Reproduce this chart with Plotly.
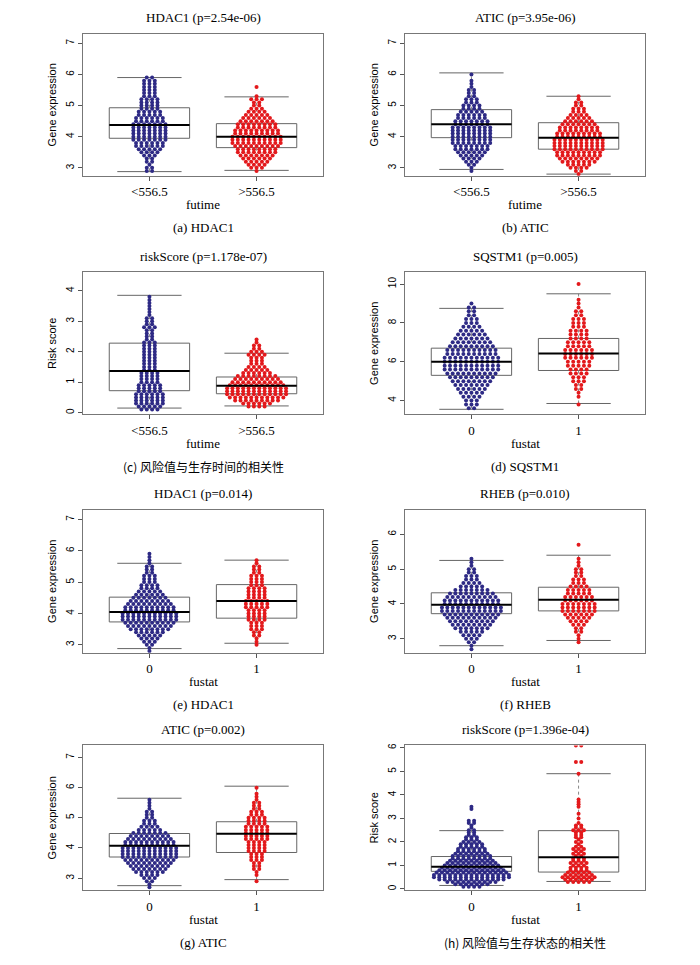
import plotly.graph_objects as go

# ---- data ----
# swarm counts per bin: (first bin value, bin width, counts)
titles = ["HDAC1 (p=2.54e-06)", "ATIC (p=3.95e-06)", "riskScore (p=1.178e-07)", "SQSTM1 (p=0.005)",
          "HDAC1 (p=0.014)", "RHEB (p=0.010)", "ATIC (p=0.002)", "riskScore (p=1.396e-04)"]
captions = ["(a) HDAC1", "(b) ATIC", "(c) 风险值与生存时间的相关性", "(d) SQSTM1",
            "(e) HDAC1", "(f) RHEB", "(g) ATIC", "(h) 风险值与生存状态的相关性"]
group_vars = ["futime", "futime", "futime", "fustat", "fustat", "fustat", "fustat", "fustat"]
y_titles = ["Gene expression", "Gene expression", "Risk score", "Gene expression",
            "Gene expression", "Gene expression", "Gene expression", "Risk score"]
tick_labels_time = ["<556.5", ">556.5"]
tick_labels_stat = ["0", "1"]

y_ranges = [[2.75, 7.3], [2.75, 7.3], [-0.05, 4.6], [3.3, 10.6],
            [2.75, 7.3], [2.6, 6.7], [2.6, 7.4], [-0.05, 6.1]]
y_ticks = [[3, 4, 5, 6, 7], [3, 4, 5, 6, 7], [0, 1, 2, 3, 4], [4, 6, 8, 10],
           [3, 4, 5, 6, 7], [3, 4, 5, 6], [3, 4, 5, 6, 7], [0, 1, 2, 3, 4, 5, 6]]

blue_bins = [
    (2.9, 0.1, [2, 2, 1, 2, 2, 3, 4, 5, 6, 6, 7, 7, 7, 7, 7, 7, 6, 6, 5, 5, 4, 4, 4, 4, 3, 3, 3, 3, 3, 3, 2]),
    (2.9, 0.1, [1, 1, 2, 3, 4, 5, 6, 7, 7, 8, 8, 8, 8, 8, 8, 7, 7, 6, 6, 5, 4, 4, 3, 3, 2, 2, 2, 1, 1, 1, 0, 1]),
    (0.1, 0.1, [4, 5, 6, 6, 6, 6, 5, 5, 5, 4, 4, 4, 4, 3, 3, 3, 3, 3, 3, 3, 3, 3, 3, 2, 2, 2, 2, 3, 2, 2, 2, 1, 1, 1, 1, 1, 1, 1]),
    (3.6, 0.2, [2, 3, 3, 4, 5, 6, 7, 8, 9, 10, 11, 11, 11, 11, 10, 10, 9, 8, 7, 6, 5, 4, 3, 3, 2, 2, 2, 1]),
    (2.8, 0.1, [1, 1, 2, 3, 4, 5, 6, 8, 9, 10, 11, 11, 11, 10, 10, 9, 8, 7, 6, 5, 4, 4, 3, 3, 3, 2, 2, 2, 1, 1, 1, 1]),
    (2.7, 0.1, [1, 1, 2, 3, 4, 5, 7, 8, 9, 10, 11, 12, 12, 11, 11, 10, 9, 7, 5, 4, 3, 3, 2, 2, 1, 1, 1]),
    (2.7, 0.1, [1, 1, 2, 3, 4, 6, 7, 8, 9, 10, 11, 11, 11, 11, 10, 10, 9, 8, 7, 5, 4, 3, 3, 2, 2, 2, 1, 1, 1, 1]),
    (0.1, 0.1, [4, 7, 10, 13, 15, 15, 14, 13, 12, 11, 10, 9, 8, 8, 7, 6, 6, 5, 5, 4, 3, 3, 2, 2, 2, 1, 1, 2, 2, 0, 0, 0, 0, 1, 1]),
]
red_bins = [
    (2.9, 0.1, [1, 3, 4, 5, 6, 7, 8, 8, 9, 10, 10, 10, 9, 9, 8, 8, 7, 6, 5, 4, 3, 2, 2, 3, 1, 0, 0, 1]),
    (2.8, 0.1, [1, 2, 4, 5, 7, 8, 9, 9, 10, 10, 10, 10, 9, 9, 8, 8, 7, 6, 5, 4, 3, 3, 2, 2, 1, 1]),
    (0.2, 0.1, [4, 6, 9, 11, 12, 12, 12, 11, 10, 9, 8, 6, 5, 4, 3, 3, 3, 4, 3, 2, 2, 1, 1]),
    (3.8, 0.2, [1, 0, 1, 1, 2, 2, 3, 3, 4, 4, 5, 5, 6, 6, 6, 5, 5, 4, 4, 4, 3, 3, 3, 2, 2, 1, 1, 1, 0, 0, 0, 1]),
    (3.0, 0.1, [1, 1, 1, 2, 2, 3, 3, 3, 4, 4, 4, 4, 5, 5, 5, 4, 4, 4, 4, 3, 3, 3, 3, 2, 2, 2, 1, 1]),
    (2.9, 0.1, [1, 1, 1, 2, 2, 3, 4, 5, 6, 7, 7, 7, 6, 6, 5, 5, 4, 3, 3, 2, 2, 2, 1, 1, 1, 0, 0, 0, 1]),
    (2.9, 0.1, [1, 0, 1, 1, 2, 2, 2, 3, 3, 3, 4, 4, 4, 4, 5, 5, 5, 5, 5, 4, 4, 4, 3, 3, 2, 2, 2, 1, 1, 1, 0, 1]),
    (0.3, 0.1, [5, 6, 7, 6, 5, 4, 4, 3, 4, 3, 3, 2, 3, 2, 3, 2, 1, 2, 1, 2, 2, 2, 3, 2, 2, 1, 0, 1, 0, 1, 0, 0, 1, 1, 1,
                1, 0, 0, 0, 0, 0, 0, 0, 0, 0, 0, 1, 0, 0, 0, 0, 2, 0, 0, 0, 0, 0, 0, 2]),
]
# box stats: lower whisker, q1, median, q3, upper whisker
blue_box = [[2.88, 3.95, 4.38, 4.93, 5.9], [2.95, 3.97, 4.4, 4.87, 6.05], [0.15, 0.72, 1.37, 2.28, 3.85],
            [3.55, 5.3, 6.0, 6.7, 8.75], [2.88, 3.73, 4.05, 4.52, 5.6], [2.8, 3.72, 3.98, 4.32, 5.25],
            [2.75, 3.7, 4.07, 4.48, 5.65], [0.15, 0.75, 0.95, 1.38, 2.48]]
red_box = [[2.92, 3.65, 4.0, 4.42, 5.28], [2.8, 3.6, 3.97, 4.45, 5.3], [0.22, 0.62, 0.88, 1.17, 1.95],
           [3.85, 5.55, 6.42, 7.2, 9.5], [3.05, 3.85, 4.4, 4.92, 5.7], [2.95, 3.8, 4.12, 4.48, 5.4],
           [2.95, 3.85, 4.47, 4.87, 6.05], [0.32, 0.72, 1.35, 2.48, 4.9]]

# ---- layout (pixels, page puts the figure 8px in from the corner) ----
W, H = 700, 965
OFF = 8
col_px = [(83 - OFF, 323 - OFF), (405 - OFF, 645 - OFF)]
row_px = [(32 - OFF, 174 - OFF), (271 - OFF, 413 - OFF), (509 - OFF, 652 - OFF), (745 - OFF, 890 - OFF)]
serif = "Liberation Serif"
sans = "Liberation Sans"
cjk = "Noto Sans CJK SC"
blue, red = "#2e2a85", "#e3191c"

fig = go.Figure()
annotations = []


def swarm(center, start, step, counts, dx=0.05):
    xs, ys = [], []
    for k, n in enumerate(counts):
        y = start + k * step
        for i in range(n):
            xs.append(center + (i - (n - 1) / 2) * dx)
            ys.append(y)
    return xs, ys


def box_traces(center, st, xa, ya, hw=0.375, cap=0.3):
    lo, q1, med, q3, hi = st
    line = dict(color="#666666", width=1)
    fig.add_trace(go.Scatter(x=[center - hw, center + hw, center + hw, center - hw, center - hw],
                             y=[q1, q1, q3, q3, q1], mode="lines", line=line, xaxis=xa, yaxis=ya,
                             hoverinfo="skip"))
    fig.add_trace(go.Scatter(x=[center, center, None, center, center], y=[q3, hi, None, q1, lo], mode="lines",
                             line=dict(color="#888888", width=1, dash="dot"), xaxis=xa, yaxis=ya, hoverinfo="skip"))
    fig.add_trace(go.Scatter(x=[center - cap, center + cap, None, center - cap, center + cap],
                             y=[hi, hi, None, lo, lo], mode="lines", line=line, xaxis=xa, yaxis=ya,
                             hoverinfo="skip"))
    return med, hw


for p in range(8):
    r, c = divmod(p, 2)
    x0, x1 = col_px[c]
    y0, y1 = row_px[r]
    n = p + 1
    xa, ya = ("x" if n == 1 else f"x{n}"), ("y" if n == 1 else f"y{n}")
    xk, yk = ("xaxis" if n == 1 else f"xaxis{n}"), ("yaxis" if n == 1 else f"yaxis{n}")

    meds = []
    for center, bins, st, col in [(0, blue_bins[p], blue_box[p], blue), (1, red_bins[p], red_box[p], red)]:
        med, hw = box_traces(center, st, xa, ya)
        meds.append((center, med, hw))
        xs, ys = swarm(center, *bins)
        fig.add_trace(go.Scatter(x=xs, y=ys, mode="markers", marker=dict(color=col, size=4),
                                 xaxis=xa, yaxis=ya))
    for center, med, hw in meds:
        fig.add_trace(go.Scatter(x=[center - hw, center + hw], y=[med, med], mode="lines",
                                 line=dict(color="black", width=2), xaxis=xa, yaxis=ya, hoverinfo="skip"))

    labels = tick_labels_time if group_vars[p] == "futime" else tick_labels_stat
    fig.layout[xk] = dict(domain=[x0 / W, x1 / W], anchor=ya, range=[-0.62, 1.62],
                          tickvals=[0, 1], ticktext=labels, tickfont=dict(family=serif, size=13, color="black"),
                          showline=True, mirror=True, linecolor="#777777", ticks="outside", ticklen=4,
                          tickcolor="#555555", showgrid=False, zeroline=False)
    fig.layout[yk] = dict(domain=[1 - y1 / H, 1 - y0 / H], anchor=xa, range=y_ranges[p],
                          tickvals=y_ticks[p], tickangle=-90, tickfont=dict(family=sans, size=10, color="black"),
                          showline=True, mirror=True, linecolor="#777777", ticks="outside", ticklen=4,
                          tickcolor="#555555", showgrid=False, zeroline=False,
                          title=dict(text=y_titles[p], font=dict(family=sans, size=11, color="black"), standoff=6))

    xm = (x0 + x1) / 2 / W
    common = dict(xref="paper", yref="paper", showarrow=False, xanchor="center", yanchor="middle")
    annotations.append(dict(text=titles[p], x=xm, y=1 - (y0 - 16) / H,
                            font=dict(family=serif, size=13, color="black"), **common))
    annotations.append(dict(text=group_vars[p], x=xm, y=1 - (y1 + 29) / H,
                            font=dict(family=serif, size=13, color="black"), **common))
    cap_font = cjk if "风" in captions[p] else serif
    annotations.append(dict(text=captions[p], x=xm, y=1 - (y1 + 52) / H,
                            font=dict(family=cap_font, size=12 if cap_font == cjk else 13, color="black"),
                            **common))

fig.update_layout(width=W, height=H, margin=dict(l=0, r=0, t=0, b=0), showlegend=False,
                  plot_bgcolor="white", paper_bgcolor="white", annotations=annotations)

fig.write_html("out.html")
